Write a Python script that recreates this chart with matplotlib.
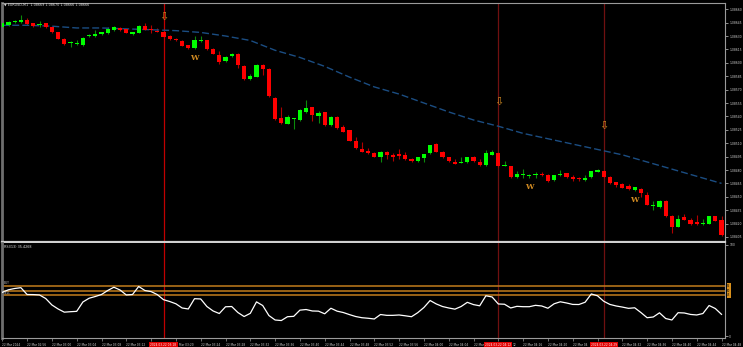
import matplotlib
matplotlib.use('Agg')
import matplotlib.pyplot as plt
from matplotlib.transforms import blended_transform_factory
import numpy as np

# ---------------- data ----------------
open_ = [1.08640,1.08642,1.08646,1.08646,1.08648,1.08644,1.08642,1.08644,1.08640,1.08634,
         1.08627,1.08622,1.08621,1.08620,1.08630,1.08630,1.08632,1.08633,1.08637,1.08639,
         1.08638,1.08632,1.08633,1.08641,1.08638,1.08636,1.08635,1.08630,1.08627,1.08624,
         1.08620,1.08617,1.08624,1.08625,1.08615,1.08609,1.08602,1.08608,1.08610,1.08596,
         1.08582,1.08584,1.08598,1.08593,1.08561,1.08538,1.08532,1.08537,1.08536,1.08545,
         1.08550,1.08540,1.08545,1.08530,1.08539,1.08528,1.08525,1.08512,1.08504,1.08501,
         1.08499,1.08494,1.08500,1.08497,1.08498,1.08497,1.08492,1.08490,1.08493,1.08499,
         1.08509,1.08500,1.08494,1.08489,1.08488,1.08489,1.08495,1.08489,1.08486,1.08497,
         1.08499,1.08484,1.08484,1.08472,1.08474,1.08473,1.08474,1.08475,1.08474,1.08469,
         1.08474,1.08477,1.08472,1.08471,1.08469,1.08472,1.08478,1.08479,1.08472,1.08467,
         1.08464,1.08462,1.08458,1.08459,1.08452,1.08440,1.08439,1.08445,1.08429,1.08416,
         1.08427,1.08424,1.08422,1.08419,1.08420,1.08428,1.08424]
high = [1.08645,1.08647,1.08648,1.08654,1.08650,1.08645,1.08647,1.08645,1.08640,1.08635,
        1.08628,1.08624,1.08625,1.08629,1.08632,1.08637,1.08635,1.08640,1.08641,1.08640,
        1.08638,1.08634,1.08642,1.08645,1.08642,1.08639,1.08635,1.08631,1.08628,1.08625,
        1.08620,1.08630,1.08630,1.08625,1.08617,1.08613,1.08608,1.08611,1.08611,1.08597,
        1.08588,1.08599,1.08599,1.08594,1.08562,1.08550,1.08542,1.08538,1.08548,1.08558,
        1.08551,1.08546,1.08545,1.08540,1.08540,1.08530,1.08525,1.08517,1.08511,1.08505,
        1.08500,1.08501,1.08501,1.08499,1.08503,1.08500,1.08493,1.08494,1.08498,1.08508,
        1.08510,1.08501,1.08495,1.08492,1.08494,1.08495,1.08496,1.08492,1.08502,1.08502,
        1.08500,1.08490,1.08484,1.08479,1.08481,1.08475,1.08478,1.08478,1.08476,1.08474,
        1.08480,1.08477,1.08474,1.08472,1.08474,1.08479,1.08481,1.08480,1.08473,1.08467,
        1.08465,1.08464,1.08461,1.08460,1.08455,1.08445,1.08446,1.08446,1.08430,1.08430,
        1.08431,1.08426,1.08430,1.08425,1.08429,1.08429,1.08428]
low = [1.08639,1.08641,1.08645,1.08645,1.08642,1.08640,1.08640,1.08639,1.08633,1.08627,
       1.08620,1.08618,1.08620,1.08619,1.08629,1.08629,1.08631,1.08632,1.08636,1.08636,
       1.08633,1.08631,1.08633,1.08637,1.08633,1.08634,1.08629,1.08626,1.08624,1.08619,
       1.08615,1.08616,1.08623,1.08614,1.08610,1.08599,1.08601,1.08607,1.08594,1.08581,
       1.08581,1.08584,1.08586,1.08562,1.08536,1.08532,1.08531,1.08526,1.08535,1.08544,
       1.08535,1.08533,1.08529,1.08529,1.08526,1.08522,1.08512,1.08504,1.08500,1.08498,
       1.08494,1.08489,1.08492,1.08490,1.08492,1.08491,1.08489,1.08489,1.08489,1.08498,
       1.08500,1.08493,1.08489,1.08487,1.08488,1.08488,1.08489,1.08485,1.08485,1.08497,
       1.08483,1.08484,1.08471,1.08471,1.08471,1.08471,1.08471,1.08473,1.08467,1.08468,
       1.08473,1.08471,1.08468,1.08468,1.08468,1.08471,1.08478,1.08471,1.08464,1.08461,
       1.08460,1.08458,1.08457,1.08450,1.08441,1.08435,1.08438,1.08427,1.08409,1.08416,
       1.08424,1.08418,1.08418,1.08418,1.08420,1.08423,1.08406]
close = [1.08644,1.08646,1.08647,1.08648,1.08643,1.08641,1.08643,1.08640,1.08634,1.08627,
         1.08621,1.08623,1.08622,1.08628,1.08631,1.08632,1.08634,1.08638,1.08640,1.08637,
         1.08633,1.08634,1.08641,1.08637,1.08637,1.08635,1.08629,1.08627,1.08625,1.08619,
         1.08617,1.08625,1.08626,1.08615,1.08610,1.08601,1.08607,1.08610,1.08597,1.08582,
         1.08585,1.08598,1.08593,1.08563,1.08537,1.08533,1.08539,1.08538,1.08547,1.08549,
         1.08542,1.08544,1.08530,1.08539,1.08527,1.08522,1.08513,1.08505,1.08500,1.08499,
         1.08494,1.08500,1.08497,1.08495,1.08496,1.08492,1.08490,1.08494,1.08498,1.08508,
         1.08500,1.08494,1.08490,1.08487,1.08489,1.08495,1.08490,1.08486,1.08499,1.08500,
         1.08484,1.08486,1.08472,1.08475,1.08475,1.08474,1.08476,1.08474,1.08468,1.08474,
         1.08476,1.08472,1.08470,1.08470,1.08471,1.08479,1.08480,1.08472,1.08465,1.08463,
         1.08460,1.08459,1.08461,1.08454,1.08441,1.08441,1.08445,1.08428,1.08416,1.08425,
         1.08424,1.08420,1.08419,1.08420,1.08428,1.08423,1.08407]

ma_bars = [0, 4, 8, 12, 16, 20, 24, 28, 32, 36, 40, 44, 48, 52, 56, 60, 64, 68, 72, 76,
           80, 84, 88, 92, 96, 100, 104, 108, 112, 116]
ma_values = [1.08642,1.08642,1.08641,1.08639,1.08639,1.08638,1.08637,1.08636,1.08634,1.08630,
             1.08625,1.08614,1.08606,1.08596,1.08584,1.08573,1.08565,1.08555,1.08545,1.08536,
             1.08529,1.08521,1.08515,1.08509,1.08503,1.08497,1.08489,1.08481,1.08473,1.08465]

rsi = [48.0,50.8,52.2,53.1,45.6,45.5,45.1,41.2,34.1,29.7,
       26.2,26.7,27.1,37.4,41.5,43.4,45.6,50.0,53.6,50.5,
       45.1,45.6,54.4,50.0,48.8,45.5,39.9,37.9,35.4,30.8,
       29.7,41.0,40.7,32.4,27.5,24.7,32.1,32.4,25.8,21.4,
       24.9,37.5,33.5,22.5,17.6,17.0,21.2,21.6,28.4,29.1,
       27.5,27.3,24.4,30.5,27.3,25.8,23.5,21.4,20.1,19.5,
       18.7,23.6,22.7,22.7,23.1,22.2,21.2,25.6,31.3,39.0,
       35.2,32.4,30.8,29.5,32.4,37.0,34.5,33.2,44.2,42.9,
       35.2,34.9,30.8,32.6,32.2,32.2,33.7,33.0,30.5,35.4,
       37.6,36.3,34.7,34.6,37.1,46.2,44.2,38.2,34.7,33.0,
       31.8,30.4,31.0,25.8,20.1,20.9,25.5,19.2,17.6,25.6,
       25.3,23.7,23.1,24.7,33.5,30.2,23.8]
rsi_levels = [55, 50, 45]

# visible time-axis texts (parts hidden behind the red signal labels are left out)
time_labels = ["22 Mar 2024", "22 Mar 02:56", "22 Mar 03:00", "22 Mar 03:04", "22 Mar 03:08",
               "22 Mar 03:12", "", "Mar 03:20", "22 Mar 03:24", "22 Mar 03:28",
               "22 Mar 03:32", "22 Mar 03:36", "22 Mar 03:40", "22 Mar 03:44", "22 Mar 03:48",
               "22 Mar 03:52", "22 Mar 03:56", "22 Mar 04:00", "22 Mar 04:04", "22 Mar",
               "12", "22 Mar 04:16", "22 Mar 04:20", "22 Mar 04", "",
               "22 Mar 04:32", "22 Mar 04:36", "22 Mar 04:40", "22 Mar 04:44", "22 Mar 04:48"]
time_label_bars = list(range(0, 117, 4))
label_shift_px = {7: 3.5, 20: 14.5}   # fragments start right of the red labels

signal_bars = [26, 80, 97]
signal_labels = ["2024.03.22 03:18", "2024.03.22 04:12", "2024.03.22 04:29"]
arrow_prices = [1.08651, 1.08556, 1.08529]
w_bars = [31, 85, 102]
w_prices = [1.08605, 1.08461, 1.08446]

price_ticks = [1.08660,1.08645,1.08630,1.08615,1.08600,1.08585,1.08570,1.08555,1.08540,
               1.08525,1.08510,1.08495,1.08480,1.08465,1.08450,1.08435,1.08420,1.08405]

title_text = "\u25bc EURUSD,M1  1.08669 1.08670 1.08666 1.08666"
rsi_title = "RSI(13) 35.4268"

# ---------------- figure ----------------
W, H = 743, 347
fig = plt.figure(figsize=(W / 100, H / 100), dpi=100, facecolor='black')

def fx(px):
    return px / W

def fy(py):
    return 1 - py / H

ax = fig.add_axes([fx(2), fy(242), fx(723), (242 - 3) / H])
axr = fig.add_axes([fx(2), fy(338), fx(723), (338 - 243) / H])

for a in (ax, axr):
    a.set_facecolor('black')
    for s in a.spines.values():
        s.set_color('#9a9a9a')
        s.set_linewidth(0.8)
    a.spines['left'].set_color('#6e6e6e')
    a.spines['left'].set_linewidth(2.0)

ax.spines['bottom'].set_color('#d0d0d0')
ax.spines['bottom'].set_linewidth(1.6)
axr.spines['top'].set_visible(False)

n = len(close)
xs = np.arange(n)
o = np.array(open_); c = np.array(close); h = np.array(high); l = np.array(low)
up = c >= o
min_h = 0.0000115
body_bot = np.minimum(o, c)
body_h = np.maximum(np.abs(c - o), min_h)

wick_col = np.where(up, '#0b8a0b', '#b00000')
ax.vlines(xs, l, h, colors=wick_col, linewidth=0.8, zorder=2)
ax.bar(xs, body_h, bottom=body_bot, width=0.66,
       color=np.where(up, '#00ff00', '#ff0000'), edgecolor='none', zorder=3)

ax.plot(ma_bars, ma_values, color='#1b4d82', linewidth=1.0, linestyle=(0, (5, 2.2)), zorder=2)

x0 = -0.3 / 6.2
x1 = x0 + 723 / 6.2
ppx = 89333.0
ax.set_xlim(x0, x1)
ax.set_ylim(1.08405 - 5 / ppx, 1.08405 + 234 / ppx)
axr.set_xlim(x0, x1)
axr.set_ylim((336 - 338) / 0.91, (336 - 243) / 0.91)

# signal vertical lines
for k, b in enumerate(signal_bars):
    col = '#c00000' if k == 0 else '#701010'
    ax.axvline(b, color=col, linewidth=0.9, zorder=1)
    axr.axvline(b, color=col, linewidth=0.9, zorder=1)

# arrows and W marks
orange = '#d08a22'
for b, p in zip(signal_bars, arrow_prices):
    ax.text(b, p, "\u21e9", color=orange, fontsize=8, ha='center', va='center', zorder=5)
for b, p in zip(w_bars, w_prices):
    ax.text(b, p, "W", color=orange, fontsize=5.5, ha='center', va='center',
            family='DejaVu Serif', fontweight='bold', zorder=5)

# price axis
ax.yaxis.tick_right()
ax.set_yticks(price_ticks)
ax.set_yticklabels([f"{p:.5f}" for p in price_ticks])
ax.tick_params(axis='y', colors='#c8c8c8', labelsize=2.2, length=2, width=0.5, pad=1.0,
               labelcolor='#d0d0d0')
ax.set_xticks([])

# RSI panel
axr.plot(xs, rsi, color='white', linewidth=0.9, zorder=3)
for lv in rsi_levels:
    axr.axhline(lv, color='#c27c1c', linewidth=1.1, zorder=2)
axr.yaxis.tick_right()
axr.set_yticks([100, 0])
axr.set_yticklabels(["100", "0"])
axr.tick_params(axis='y', colors='#c8c8c8', labelsize=2.2, length=2, width=0.5, pad=1.0)
tr = blended_transform_factory(axr.transAxes, axr.transData)
for lv in rsi_levels:
    axr.text(1.003, lv, str(lv), transform=tr, fontsize=2.0, color='black', va='center',
             ha='left', bbox=dict(boxstyle='square,pad=0.2', facecolor='#d8901c',
                                  edgecolor='none'), clip_on=False)
axr.text(0.002, 55.5, "BUY", transform=tr, fontsize=2.1, color='#c8c8c8', va='bottom', ha='left')
axr.text(0.002, 45.5, "SELL", transform=tr, fontsize=2.1, color='#c8c8c8', va='bottom', ha='left')

axr.set_xticks(time_label_bars)
axr.set_xticklabels([])
axr.tick_params(axis='x', colors='#9a9a9a', length=2, width=0.5)
trx = blended_transform_factory(axr.transData, axr.transAxes)
for k, (b, s) in enumerate(zip(time_label_bars, time_labels)):
    if not s:
        continue
    shift = label_shift_px.get(k, 0) / 6.2
    axr.text(b + shift, -0.075, s, transform=trx, fontsize=2.1, color='#d0d0d0',
             ha='left', va='center', clip_on=False)

for b, s in zip(signal_bars, signal_labels):
    axr.text(b, -0.075, s, transform=trx, fontsize=2.1, color='white', ha='center', va='center',
             bbox=dict(boxstyle='square,pad=0.35', facecolor='#e00000', edgecolor='none'),
             zorder=10, clip_on=False)

fig.text(fx(4), fy(5), title_text, fontsize=2.4, color='#e0e0e0', va='center', ha='left')
fig.text(fx(4), fy(247), rsi_title, fontsize=2.4, color='#e0e0e0', va='center', ha='left')

fig.savefig('out.png', dpi=100, facecolor='black')
